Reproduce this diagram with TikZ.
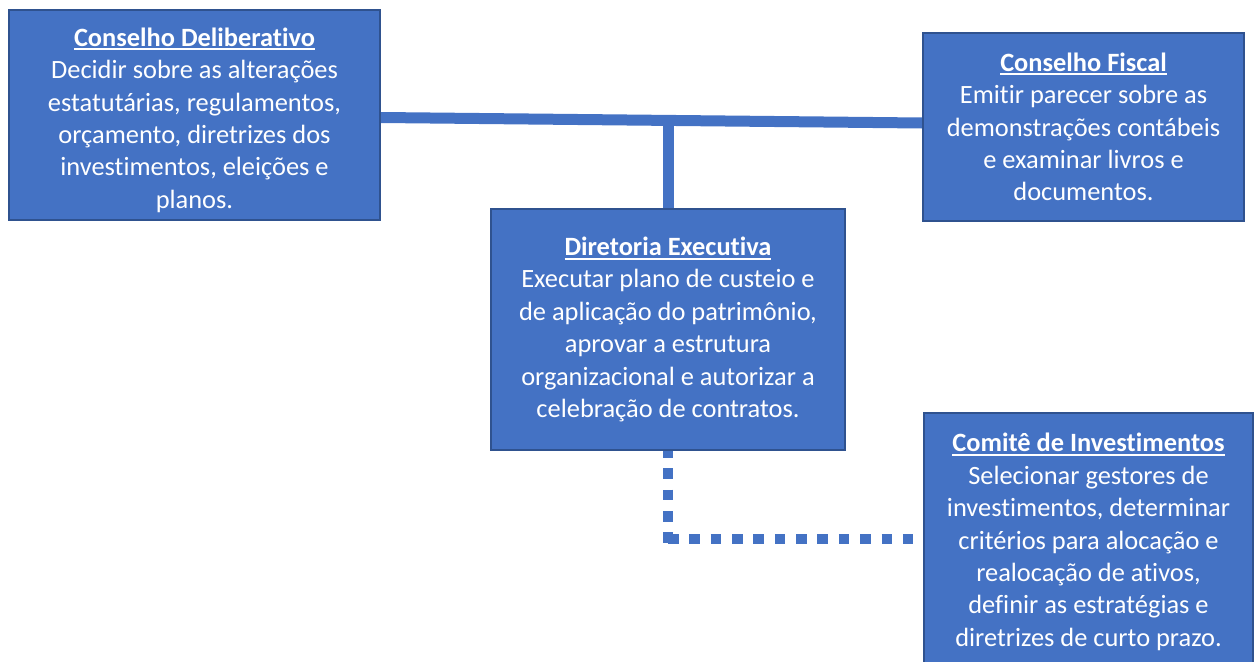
\documentclass[tikz,border=0pt]{standalone}
\usepackage{fontspec}
\setmainfont[Ligatures=NoCommon]{Carlito}
\usetikzlibrary{backgrounds}

\definecolor{boxblue}{HTML}{4472C4}
\definecolor{boxedge}{HTML}{2F528F}

\tikzset{
  orgbox/.style={draw=boxedge, line width=2pt, fill=boxblue, text=white, align=center,
    inner sep=0pt, font=\fontsize{26.4}{32.4}\selectfont},
  link/.style={draw=boxblue, line width=11pt},
  dotlink/.style={draw=boxblue, line width=10.5pt, dash pattern=on 10.5pt off 10.85pt}
}
\newcommand{\boxtitle}[1]{\setbox0\hbox{\textbf{#1}}\rlap{\rule[-4pt]{\wd0}{2pt}}\box0}

\begin{document}
\begin{tikzpicture}[x=1pt, y=-1pt]
        \useasboundingbox (0,0) rectangle (1257,661);
        \clip (0,0) rectangle (1257,661);
        \begin{scope}[every node/.style={orgbox}]
                \node[minimum width=371pt, minimum height=210pt] (CD) at (194.5,115)
                        {\rule{0pt}{29pt}\boxtitle{Conselho Deliberativo}\\Decidir sobre as alterações\\estatutárias, regulamentos,\\orçamento, diretrizes dos\\investimentos, eleições e\\planos.};
                \node[minimum width=321pt, minimum height=188pt] (CF) at (1083.5,127)
                        {\boxtitle{Conselho Fiscal}\\Emitir parecer sobre as\\demonstrações contábeis\\e examinar livros e\\documentos.};
                \node[minimum width=354pt, minimum height=241pt] (DE) at (668,329.5)
                        {\boxtitle{Diretoria Executiva}\\Executar plano de custeio e\\de aplicação do patrimônio,\\aprovar a estrutura\\organizacional e autorizar a\\celebração de contratos.};
                \node[minimum width=329pt, minimum height=258pt] (CI) at (1088.5,542)
                        {\boxtitle{Comitê de Investimentos}\\Selecionar gestores de\\investimentos, determinar\\critérios para alocação e\\realocação de ativos,\\definir as estratégias e\\diretrizes de curto prazo.};
        \end{scope}
        \coordinate (bend) at (DE.south |- 0,539);
        \coordinate (cidot) at (913.5,539);
        \begin{scope}[on background layer]
                \draw[link] (CD.east |- 0,117.5) -- (CF.west |- 0,123);
                \draw[link] (DE.north) -- (DE.north |- 0,119);
                \draw[dotlink] ([yshift=4pt]DE.south) -- ([yshift=-5pt]bend);
                \draw[dotlink] (bend) -- (cidot);
        \end{scope}
\end{tikzpicture}
\end{document}
